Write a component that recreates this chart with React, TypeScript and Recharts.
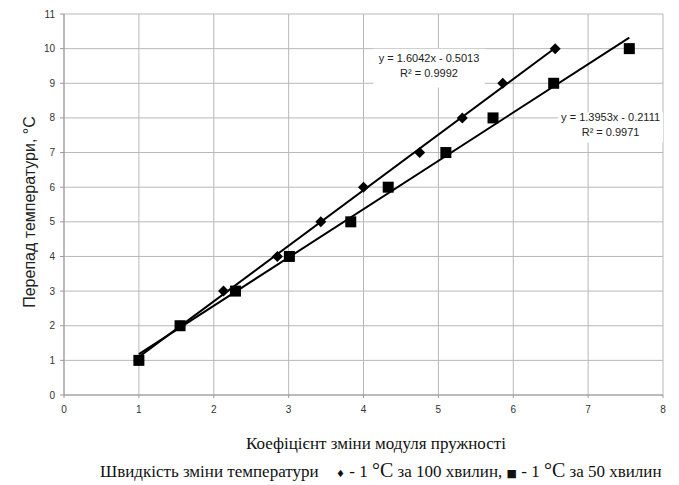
import React from 'react';
import {
  ScatterChart,
  Scatter,
  XAxis,
  YAxis,
  CartesianGrid,
  ReferenceArea,
} from 'recharts';

const slowX = [1.0, 1.55, 2.13, 2.85, 3.43, 4.0, 4.75, 5.32, 5.86, 6.56];
const slowY = [1, 2, 3, 4, 5, 6, 7, 8, 9, 10];
const fastX = [1.0, 1.55, 2.29, 3.01, 3.83, 4.33, 5.1, 5.73, 6.54, 7.55];
const fastY = [1, 2, 3, 4, 5, 6, 7, 8, 9, 10];

// trendline end points (from the printed equations)
const slowTrend = [
  { x: 1.0, y: 1.1 },
  { x: 6.56, y: 10.02 },
];
const fastTrend = [
  { x: 1.0, y: 1.18 },
  { x: 7.55, y: 10.32 },
];

const xTicks = [0, 1, 2, 3, 4, 5, 6, 7, 8];
const yTicks = [0, 1, 2, 3, 4, 5, 6, 7, 8, 9, 10, 11];

const slowEq = ['y = 1.6042x - 0.5013', 'R² = 0.9992'];
const fastEq = ['y = 1.3953x - 0.2111', 'R² = 0.9971'];

const slowData = slowX.map((x, i) => ({ x, y: slowY[i] }));
const fastData = fastX.map((x, i) => ({ x, y: fastY[i] }));

const SANS = 'Liberation Sans, Arial, sans-serif';
const SERIF = 'Liberation Serif, Times New Roman, serif';

const Diamond = (props: any) => {
  const { cx, cy } = props;
  if (cx == null || cy == null) return null;
  const r = 5.5;
  return (
    <polygon
      points={`${cx},${cy - r} ${cx + r},${cy} ${cx},${cy + r} ${cx - r},${cy}`}
      fill="#000"
    />
  );
};

const Square = (props: any) => {
  const { cx, cy } = props;
  if (cx == null || cy == null) return null;
  const s = 11;
  return <rect x={cx - s / 2} y={cy - s / 2} width={s} height={s} fill="#000" />;
};

const NoDot = () => null;

const eqLabel = (lines: string[]) => (props: any) => {
  const { x, y, width, height } = props.viewBox;
  const cx = x + width / 2;
  const cy = y + height / 2;
  return (
    <text x={cx} y={cy - 6} textAnchor="middle" fontFamily={SANS} fontSize={11} fill="#222">
      <tspan x={cx} dy={0}>{lines[0]}</tspan>
      <tspan x={cx} dy={15}>{lines[1]}</tspan>
    </text>
  );
};

const tickStyle = { fontSize: 10, fill: '#333', fontFamily: SANS };

const App = () => {
  return (
    <div style={{ position: 'fixed', left: 0, top: 0, width: 679, height: 485, background: '#fff' }}>
      <ScatterChart
        width={679}
        height={485}
        margin={{ top: 14, right: 16, bottom: 0, left: 0 }}
      >
        <CartesianGrid stroke="#b8b8b8" strokeWidth={1} />
        <XAxis
          type="number"
          dataKey="x"
          domain={[0, 8]}
          ticks={xTicks}
          height={90}
          tickSize={3}
          tickMargin={8}
          stroke="#999"
          tick={tickStyle}
        />
        <YAxis
          type="number"
          dataKey="y"
          domain={[0, 11]}
          ticks={yTicks}
          width={64}
          tickSize={4}
          tickMargin={5}
          stroke="#999"
          tick={tickStyle}
        />
        <ReferenceArea
          x1={4.13}
          x2={5.62}
          y1={8.88}
          y2={10.0}
          fill="#fff"
          fillOpacity={1}
          stroke="none"
          label={eqLabel(slowEq)}
        />
        <ReferenceArea
          x1={6.6}
          x2={8}
          y1={7.29}
          y2={8.16}
          fill="#fff"
          fillOpacity={1}
          stroke="none"
          label={eqLabel(fastEq)}
        />
        <Scatter
          data={slowTrend}
          line={{ stroke: '#000', strokeWidth: 2 }}
          shape={NoDot}
          isAnimationActive={false}
        />
        <Scatter
          data={fastTrend}
          line={{ stroke: '#000', strokeWidth: 2 }}
          shape={NoDot}
          isAnimationActive={false}
        />
        <Scatter data={slowData} shape={Diamond} isAnimationActive={false} />
        <Scatter data={fastData} shape={Square} isAnimationActive={false} />
      </ScatterChart>
      <svg
        width={679}
        height={485}
        style={{ position: 'absolute', left: 0, top: 0, pointerEvents: 'none' }}
      >
        <text
          transform="translate(35, 212) rotate(-90)"
          textAnchor="middle"
          fontFamily={SANS}
          fontSize={16}
          fill="#222"
        >
          Перепад температури, °C
        </text>
        <text x={376} y={449} textAnchor="middle" fontFamily={SERIF} fontSize={17} fill="#111">
          Коефіцієнт зміни модуля пружності
        </text>
        <text x={100} y={477} fontFamily={SERIF} fontSize={17} fill="#111">
          Швидкість зміни температури
        </text>
        <text x={336} y={477} fontFamily={SERIF} fontSize={17} fill="#111">
          <tspan fontFamily="DejaVu Sans, sans-serif" fontSize={10}>♦</tspan>
          <tspan> - 1 </tspan>
          <tspan fontSize={20}>°C</tspan>
          <tspan> за 100 хвилин, </tspan>
          <tspan fontFamily="DejaVu Sans, sans-serif" fontSize={11}>■</tspan>
          <tspan> - 1 </tspan>
          <tspan fontSize={20}>°C</tspan>
          <tspan> за 50 хвилин</tspan>
        </text>
      </svg>
    </div>
  );
};

export default App;
